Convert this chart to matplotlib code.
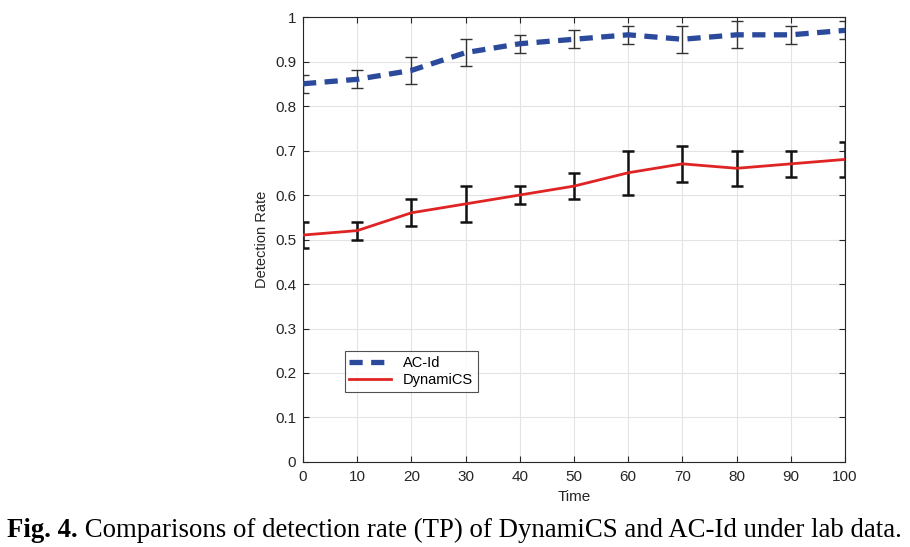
import matplotlib.pyplot as plt
import numpy as np

# Data
time = [0, 10, 20, 30, 40, 50, 60, 70, 80, 90, 100]
acid_rate = [0.85, 0.86, 0.88, 0.92, 0.94, 0.95, 0.96, 0.95, 0.96, 0.96, 0.97]
acid_err = [0.02, 0.02, 0.03, 0.03, 0.02, 0.02, 0.02, 0.03, 0.03, 0.02, 0.02]
dyn_rate = [0.51, 0.52, 0.56, 0.58, 0.60, 0.62, 0.65, 0.67, 0.66, 0.67, 0.68]
dyn_err = [0.03, 0.02, 0.03, 0.04, 0.02, 0.03, 0.05, 0.04, 0.04, 0.03, 0.04]

x_ticks = list(range(0, 101, 10))
y_ticks = [0, 0.1, 0.2, 0.3, 0.4, 0.5, 0.6, 0.7, 0.8, 0.9, 1]
y_labels = ["0", "0.1", "0.2", "0.3", "0.4", "0.5", "0.6", "0.7", "0.8", "0.9", "1"]

caption_bold = "Fig. 4."
caption_rest = " Comparisons of detection rate (TP) of DynamiCS and AC-Id under lab data."

plt.rcParams['font.family'] = ['Liberation Sans', 'DejaVu Sans']

fig = plt.figure(figsize=(9.1, 5.47), dpi=100)
ax = fig.add_axes([0.333, 0.1554, 0.5956, 0.8135])

ax.errorbar(time, acid_rate, yerr=acid_err, fmt='none', ecolor='#333333',
            elinewidth=1.0, capsize=4, capthick=1.0, zorder=2)
ax.plot(time, acid_rate, color='#2B4A9C', linestyle=(0, (2.5, 1.6)),
        linewidth=3.8, label='AC-Id', zorder=3)
ax.errorbar(time, dyn_rate, yerr=dyn_err, fmt='none', ecolor='#111111',
            elinewidth=1.8, capsize=4, capthick=1.8, zorder=2)
ax.plot(time, dyn_rate, color='#E02424', linewidth=2.0, label='DynamiCS', zorder=3)

ax.set_xlim(0, 100)
ax.set_ylim(0, 1)
ax.set_xticks(x_ticks)
ax.set_yticks(y_ticks)
ax.set_yticklabels(y_labels)
ax.tick_params(direction='in', top=True, right=True, labelsize=11,
               colors='#262626', length=4)
ax.tick_params(axis='x', pad=6)
ax.tick_params(axis='y', pad=5)
ax.grid(True, color='#e3e3e3', linewidth=0.8)
ax.set_axisbelow(True)
for s in ax.spines.values():
    s.set_color('#262626')
    s.set_linewidth(0.8)

ax.set_xlabel('Time', fontsize=11, color='#262626', labelpad=4)
ax.set_ylabel('Detection Rate', fontsize=10.5, color='#262626', labelpad=4)

leg = ax.legend(loc='lower left', bbox_to_anchor=(0.077, 0.158), fontsize=10.5,
                frameon=True, fancybox=False, edgecolor='#262626',
                borderpad=0.3, handlelength=2.9, labelspacing=0.25,
                borderaxespad=0)
leg.get_frame().set_linewidth(0.8)

t1 = fig.text(0.008, 0.018, caption_bold, fontsize=19.25, fontweight='bold',
              family='Liberation Serif', ha='left', va='baseline')
fig.canvas.draw()
bb = t1.get_window_extent()
x_next = bb.x1 / fig.bbox.width
fig.text(x_next, 0.018, caption_rest, fontsize=19.25,
         family='Liberation Serif', ha='left', va='baseline')

fig.savefig('out.png', dpi=100)
